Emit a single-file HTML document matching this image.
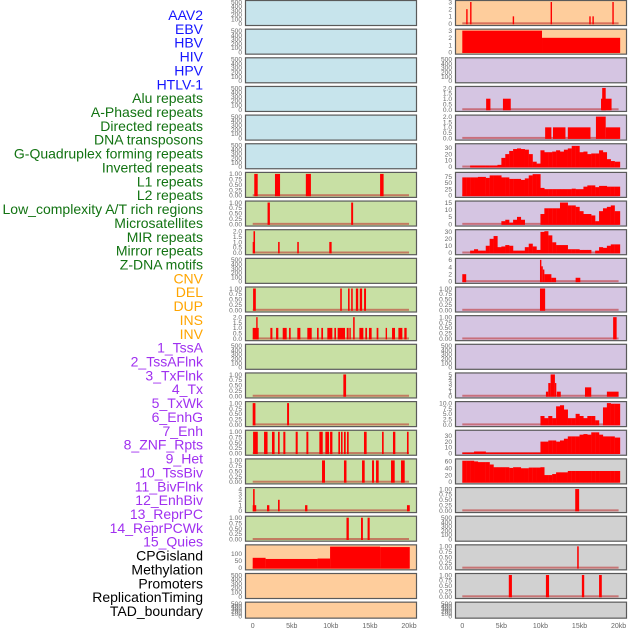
<!DOCTYPE html>
<html><head><meta charset="utf-8"><style>
html,body{margin:0;padding:0;background:#fff;}
svg{display:block;}
</style></head><body>
<svg id="chart" width="630" height="630" xmlns="http://www.w3.org/2000/svg" font-family="Liberation Sans, sans-serif"></svg>
<script>
// ---- Row labels ----
const labels = ["AAV2","EBV","HBV","HIV","HPV","HTLV-1","Alu repeats","A-Phased repeats","Directed repeats","DNA transposons","G-Quadruplex forming repeats","Inverted repeats","L1 repeats","L2 repeats","Low_complexity A/T rich regions","Microsatellites","MIR repeats","Mirror repeats","Z-DNA motifs","CNV","DEL","DUP","INS","INV","1_TssA","2_TssAFlnk","3_TxFlnk","4_Tx","5_TxWk","6_EnhG","7_Enh","8_ZNF_Rpts","9_Het","10_TssBiv","11_BivFlnk","12_EnhBiv","13_ReprPC","14_ReprPCWk","15_Quies","CPGisland","Methylation","Promoters","ReplicationTiming","TAD_boundary"];
const labelGroups = ["v","v","v","v","v","v","r","r","r","r","r","r","r","r","r","r","r","r","r","s","s","s","s","s","c","c","c","c","c","c","c","c","c","c","c","c","c","c","c","o","o","o","o","o"];
const xTickValues = [0,5,10,15,20];
const xTickLabels = ["0","5kb","10kb","15kb","20kb"];

// ---- Panel backgrounds (per row) ----
const leftBg  = ["b","b","b","b","b","b","g","g","g","g","g","g","g","g","g","g","g","g","g","p","p","p"];
const rightBg = ["p","p","l","l","l","l","l","l","l","l","l","l","l","l","l","l","k","k","k","k","k","k"];

// ---- Y tick sets ----
const T500 = [0,100,200,300,400,500];
const T1 = [0,0.25,0.5,0.75,1];
const T1L = ["0.00","0.25","0.50","0.75","1.00"];
const T2 = [0,0.5,1,1.5,2];
const T2L = ["0.0","0.5","1.0","1.5","2.0"];

// ---- Left column data: [startKb, endKb, value] ----
const L6 = [[0.2,0.64,1],[2.85,3.5,1],[6.8,7.45,1],[16.3,16.75,1]];
const L7 = [[1.9,2.2,1],[12.6,12.85,1]];
const L8 = [[0,0.1,1],[0.1,0.3,2],[3.25,3.45,1],[5.7,5.9,1],[9.8,10.1,1]];
const L10 = [[0.05,0.4,1],[11.2,11.4,1],[12.2,12.4,1],[12.6,12.8,1],[13.2,13.5,1],[13.7,14.0,1],[14.25,14.5,1]];
const L11 = [[0,0.77,1],[0.45,0.6,2],[2.26,2.52,1],[2.99,3.28,1],[3.84,4.35,1],[4.65,4.86,1],[5.71,6.1,1],[6.99,7.55,1],[8.23,8.44,1],[8.78,9.0,1],[9.55,10.19,1],[10.45,10.66,1],[10.87,11.81,1],[12.03,12.28,1],[12.37,12.54,1],[12.85,13.05,2],[13.65,14.16,1],[14.41,14.63,1],[14.88,15.22,1],[15.86,16.08,1],[17.01,17.14,1],[17.83,18.21,1],[18.64,19.15,1],[19.4,19.7,1]];
const L13 = [[11.6,11.95,1]];
const L14 = [[0,0.35,1],[4.4,4.65,1]];
const L15 = [[0.05,0.65,1],[1.45,1.9,1],[2.47,2.8,1],[3.24,3.45,1],[3.92,4.18,1],[5.5,5.76,1],[6.87,7.12,1],[8.53,8.96,1],[9.3,9.77,1],[9.9,10.2,1],[10.96,11.17,1],[11.3,11.5,1],[11.68,11.9,1],[12.07,12.28,1],[14.24,14.58,1],[16.55,16.76,1],[17.95,18.25,1],[19.74,19.95,1]];
const L16 = [[8.87,9.25,1],[11.68,12.0,1],[13.99,14.33,1],[15.27,15.52,1],[15.78,16.12,1],[17.7,18.17,1],[18.98,19.45,1]];
const L17 = [[0,0.45,1],[0.05,0.25,4],[1.83,2.13,1],[3.24,3.45,2],[6.7,7.0,1],[19.74,20.1,1]];
const L18 = [[12.0,12.3,1],[13.86,14.1,1],[14.7,14.97,1]];
const L19 = [[0,1.65,70],[1.65,8.3,62],[8.3,9.9,65],[9.9,16.3,148],[16.3,20.1,145]];

// ---- Right column data ----
const R0 = [[0.5,0.65,2],[1.0,1.15,3],[6.45,6.6,1],[11.3,11.45,3],[16.25,16.4,1],[16.65,16.8,1],[19.2,19.35,3]];
const R1 = [[0,10.2,3],[10.2,20.2,2]];
const R3 = [[3.05,3.6,1],[5.2,6.2,1],[17.75,19.1,1],[17.9,18.35,2]];
const R4 = [[10.6,11.4,1],[11.6,13.2,1],[13.5,16.4,1],[17.1,18.35,2],[18.35,20.2,1]];
// profile series: 40 bins of 0.5 kb
const R5 = [0,0,2,2,2,2,2,2,2,3,14,20,25,28,29,28,27,20,8,5,26,23,23,24,26,24,27,29,33,33,23,24,20,21,21,26,23,12,9,8];
const R6 = [72,72,72,72,74,74,70,80,80,80,72,72,66,66,66,62,68,80,85,85,30,25,25,25,25,25,25,25,27,25,25,35,40,40,33,38,38,35,35,35];
const R7 = [0,0,0,0,0,0,0,0,0,0,2,3,1,3,5,3,0,0,0,0,7,11,11,11,11,15,15,13,13,12,9,7,7,6,2,9,11,12,13,9];
const R8 = [0,0,3,5,3,3,10,20,24,8,9,11,10,3,3,3,8,13,9,4,30,31,25,15,11,11,11,5,5,5,4,4,4,0,3,8,7,10,12,12];
const R9 = [[0,0.5,2],[9.94,10.1,6],[10.1,10.3,4.2],[10.3,10.5,3.3],[10.5,11.4,2],[11.4,12.0,1],[14.5,15.1,1]];
const R10 = [[9.94,10.6,1]];
const R11 = [[19.3,19.75,1]];
const R13 = [[10.7,11.0,1],[11.0,11.3,3],[11.3,11.85,5],[11.85,12.0,3],[12.1,12.6,1],[15.7,16.5,2],[18.5,20.0,1]];
const R14 = [0,0,0,0,0,0,0,0,0,0,0,0,0,0,0,0,0,0,0,0,4,3,4,3,8.5,9,7,3,3,5,4,3,4,4,2,0,8,10,9.7,9.7];
const R15 = [1,1,1,3,3,3,1,1,1,1,1,1,1,1,1,1,1,1,1,1,20,20,22,22,20,22,25,29,29,29,32,33,32,36,36,32,29,29,29,27];
const R16 = [62,62,62,60,58,58,58,51,43,43,43,43,41,43,43,40,40,42,42,42,43,20,20,23,28,28,28,32,32,32,32,32,32,32,32,32,32,32,32,32];
const R17 = [[14.45,14.95,1]];
const R19 = [[14.7,14.9,1]];
const R20 = [[5.95,6.35,1],[10.7,11.1,1],[15.3,15.6,1],[17.5,17.85,1]];

const svg = document.getElementById('chart');
const NS = 'http://www.w3.org/2000/svg';
const bgColors = {b:'#c7e4ec',p:'#fecd9c',l:'#d5c5e2',g:'#c8e0a4',k:'#d1d1d1'};
const labelColors = {v:'#1515ff',r:'#127312',s:'#ffa500',c:'#a030f0',o:'#000000'};
function mk(tag, attrs, parent){const e=document.createElementNS(NS,tag);for(const k in attrs)e.setAttribute(k,attrs[k]);(parent||svg).appendChild(e);return e;}

// labels
const pitch = (611-15)/43;
labels.forEach((t,i)=>{
  const e = mk('text',{x:203,y:15+i*pitch+5,'text-anchor':'end','font-size':14,fill:labelColors[labelGroups[i]]});
  e.textContent = t;
  
  
});

const cols = [{left:245,right:416,x0:252.7},{left:455,right:626,x0:462.3}];
const kbPx = 7.815;
function xs(col,kb){return cols[col].x0 + kb*kbPx;}

function panel(col,row,bg,cfg){
  const top = row*28.65, h = row===21?16:25;
  const g = mk('g',{});
  
  
  const c = cols[col];
  mk('rect',{x:c.left+0.5,y:top+0.5,width:c.right-c.left,height:h,fill:bgColors[bg],stroke:'#5a5a5a','stroke-width':1.2},g);
  const ticks = cfg.ticks||T500, tl = cfg.tickLabels||ticks.map(String);
  const ymax = cfg.ymax||ticks[ticks.length-1];
  const y = v => top+h-1.5 - v/ymax*(h-3.5);
  ticks.forEach((t,i)=>{
    const e = mk('text',{x:c.left-3,y:y(t)+2.3,'text-anchor':'end','font-size':6.6,fill:'#6a6a6a'},g);
    e.textContent = tl[i];
    
    
  });
  if(!cfg.bars && !cfg.profile) return;
  mk('rect',{x:xs(col,0),y:y(0)-1.2,width:xs(col,20)-xs(col,0),height:2,fill:'rgba(190,40,40,0.55)'},g);
  const drawBar=(s,e,v)=>{
    if(v<=0) return;
    const x1=xs(col,s), w=Math.max(1.4,xs(col,e)-x1);
    const r = mk('rect',{x:x1,y:y(v),width:w,height:y(0)-y(v)+0.8,fill:'#ff0000'},g);
    
    
  };
  if(cfg.bars) cfg.bars.forEach(b=>drawBar(b[0],b[1],b[2]));
  if(cfg.profile) cfg.profile.forEach((v,i)=>drawBar(i*0.5,i===39?20.2:i*0.5+0.52,v));
}

const leftCfg = {6:{bars:L6,ticks:T1,tickLabels:T1L},7:{bars:L7,ticks:T1,tickLabels:T1L},8:{bars:L8,ticks:T2,tickLabels:T2L},
 10:{bars:L10,ticks:T1,tickLabels:T1L},11:{bars:L11,ticks:T2,tickLabels:T2L},13:{bars:L13,ticks:T1,tickLabels:T1L},
 14:{bars:L14,ticks:T1,tickLabels:T1L},15:{bars:L15,ticks:T1,tickLabels:T1L},16:{bars:L16,ticks:T1,tickLabels:T1L},
 17:{bars:L17,ticks:[0,1,2,3,4]},18:{bars:L18,ticks:T1,tickLabels:T1L},19:{bars:L19,ticks:[0,50,100],ymax:150}};
const rightCfg = {0:{bars:R0,ticks:[0,1,2,3]},1:{bars:R1,ticks:[0,1,2,3]},3:{bars:R3,ticks:T2,tickLabels:T2L},
 4:{bars:R4,ticks:T2,tickLabels:T2L},5:{profile:R5,ticks:[0,10,20,30],ymax:34},6:{profile:R6,ticks:[0,25,50,75],ymax:86},
 7:{profile:R7,ticks:[0,5,10,15]},8:{profile:R8,ticks:[0,10,20,30],ymax:31},9:{bars:R9,ticks:[0,2,4,6]},
 10:{bars:R10,ticks:T1,tickLabels:T1L},11:{bars:R11,ticks:T1,tickLabels:T1L},13:{bars:R13,ticks:[0,1,2,3,4,5]},
 14:{profile:R14,ticks:[0,2.5,5,7.5,10],tickLabels:["0.0","2.5","5.0","7.5","10.0"]},15:{profile:R15,ticks:[0,10,20,30],ymax:37},
 16:{profile:R16,ticks:[0,20,40,60],ymax:63},17:{bars:R17,ticks:T1,tickLabels:T1L},19:{bars:R19,ticks:T1,tickLabels:T1L},
 20:{bars:R20,ticks:T1,tickLabels:T1L}};

for(let r=0;r<22;r++){
  panel(0,r,leftBg[r],leftCfg[r]||{});
  panel(1,r,rightBg[r],rightCfg[r]||{});
}
// x axes
[0,1].forEach(col=>{
  xTickValues.forEach((v,i)=>{
    const e = mk('text',{x:xs(col,v),y:628,'text-anchor':'middle','font-size':7,fill:'#666666'});
    e.textContent = xTickLabels[i];
    
    
  });
});
</script>
</body></html>
